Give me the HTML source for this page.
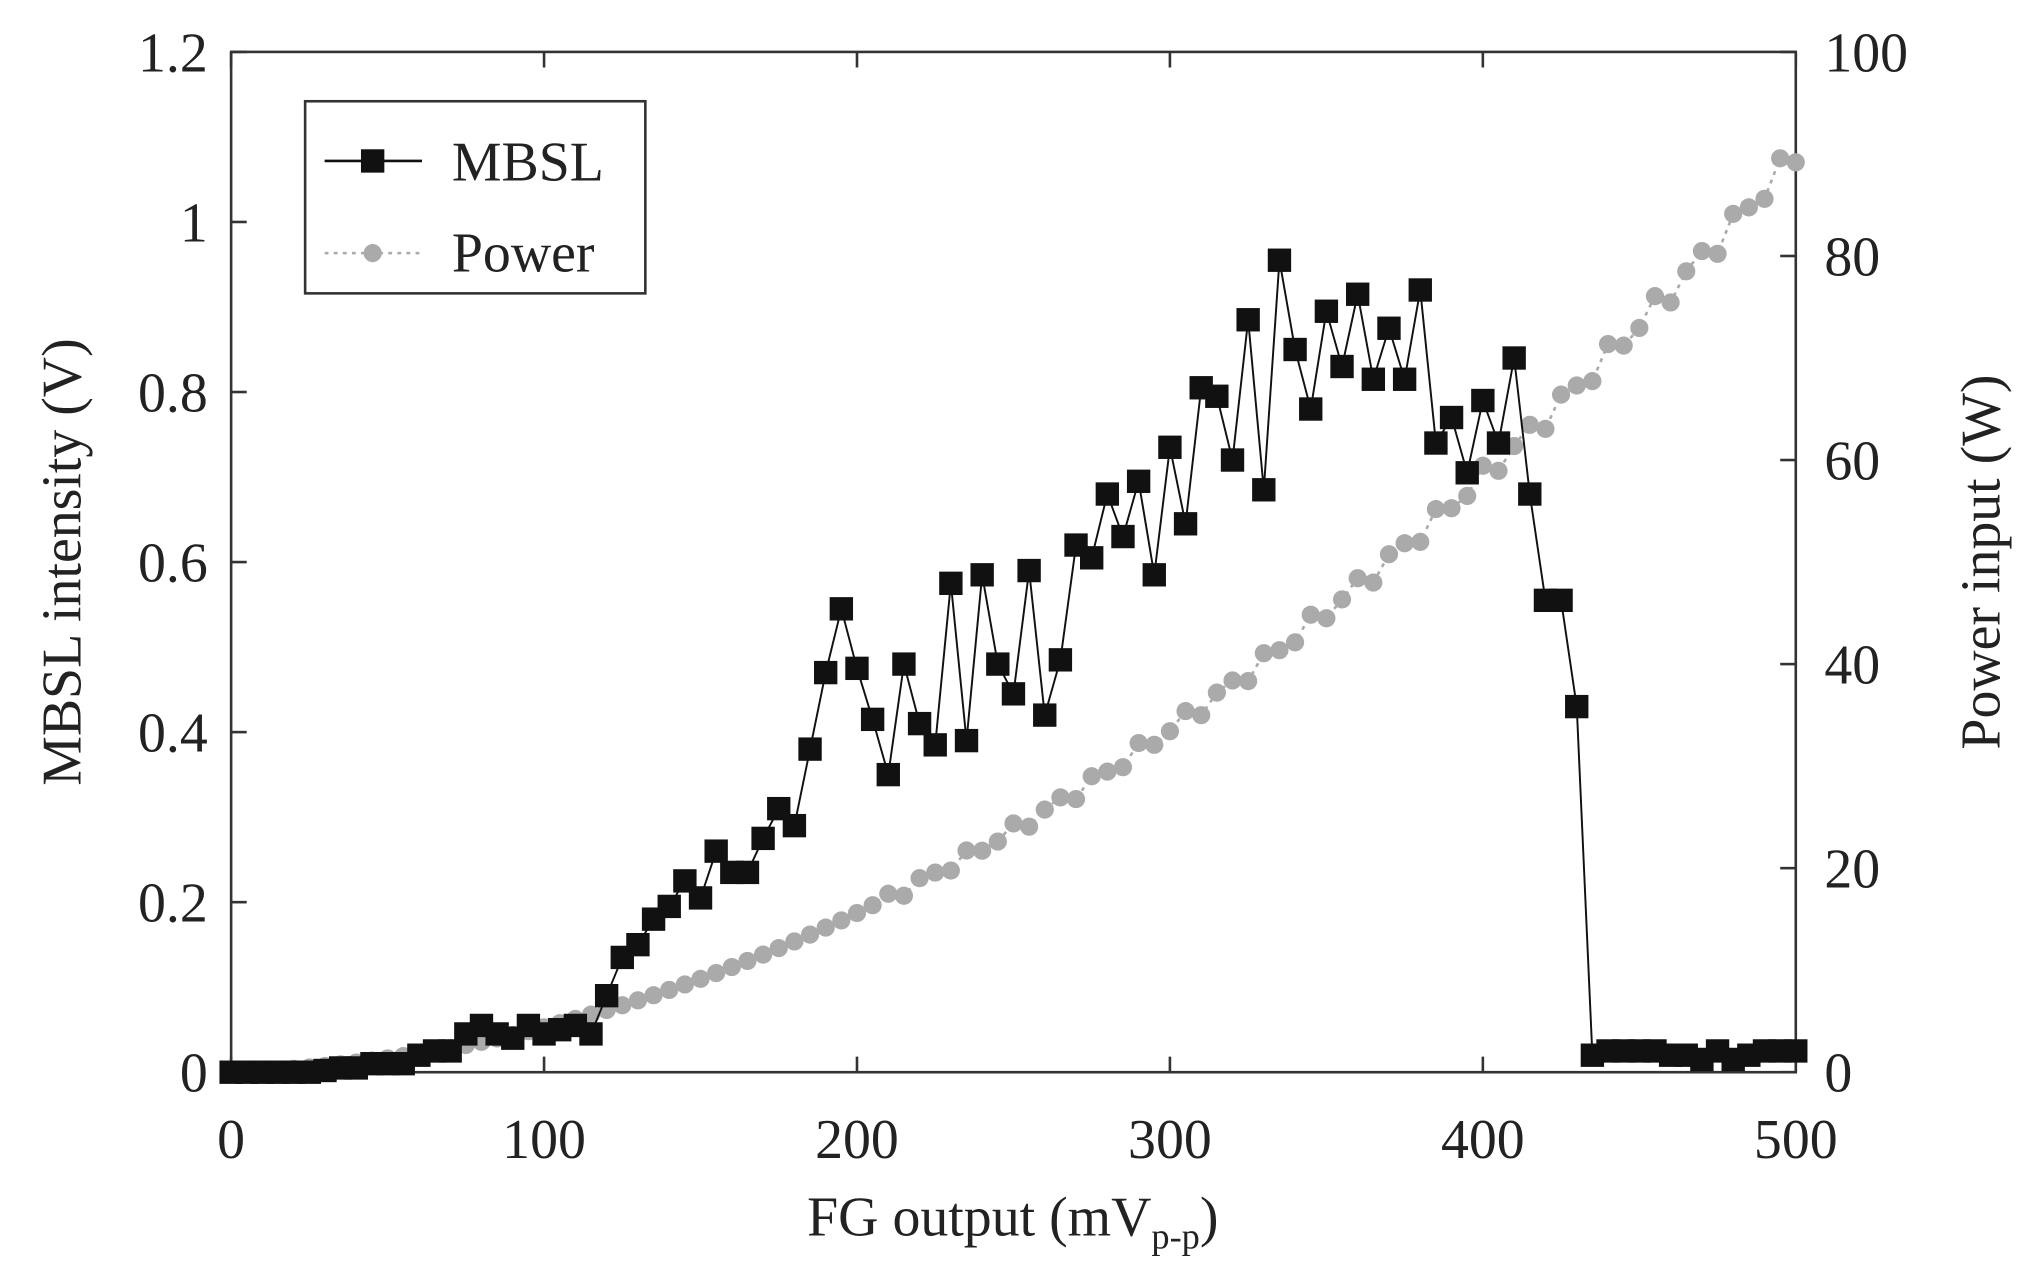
<!DOCTYPE html>
<html><head><meta charset="utf-8"><style>
html,body{margin:0;padding:0;background:#fff;}
svg{display:block;}
text{font-family:"Liberation Serif",serif;fill:#222;}
</style></head><body>
<svg id="s" width="2036" height="1276" viewBox="0 0 1568 983" preserveAspectRatio="none" xmlns="http://www.w3.org/2000/svg">
<rect x="178" y="40" width="1205" height="786" fill="none" stroke="#333" stroke-width="2"/>
<g id="ticks"></g>
<g id="power"></g>
<g id="mbsl"></g>
<rect x="235" y="78" width="262" height="148" fill="#fff" stroke="#333" stroke-width="2"/>
<line x1="250" y1="124" x2="325" y2="124" stroke="#111" stroke-width="2"/>
<rect x="278" y="115" width="18" height="18" fill="#111"/>
<text x="348" y="139" font-size="43">MBSL</text>
<line x1="250" y1="195" x2="325" y2="195" stroke="#aaa" stroke-width="2" stroke-dasharray="3,4"/>
<circle cx="287" cy="195" r="7" fill="#aaa"/>
<text x="348" y="209" font-size="43">Power</text>
<text x="780" y="952" font-size="43" text-anchor="middle">FG output (mV<tspan font-size="28" dy="10">p-p</tspan><tspan dy="-10">)</tspan></text>
<text transform="translate(62,433) rotate(-90)" font-size="43" text-anchor="middle">MBSL intensity (V)</text>
<text transform="translate(1540,433) rotate(-90)" font-size="43" text-anchor="middle">Power input (W)</text>
</svg>
<script>
var ns="http://www.w3.org/2000/svg";
function el(p,t,a){var e=document.createElementNS(ns,t);for(var k in a)e.setAttribute(k,a[k]);p.appendChild(e);return e;}
function X(v){return 178+v*2.41;}
function Y(v){return 826-v/1.2*786;}
function YP(v){return 826-v/100*786;}
var T=document.getElementById('ticks');
for(var i=0;i<=5;i++){var x=X(i*100);el(T,'line',{x1:x,y1:826,x2:x,y2:814,stroke:'#333','stroke-width':2});el(T,'line',{x1:x,y1:40,x2:x,y2:52,stroke:'#333','stroke-width':2});
var t=el(T,'text',{x:x,y:892,'font-size':43,'text-anchor':'middle'});t.textContent=i*100;}
var yl=['0','0.2','0.4','0.6','0.8','1','1.2'];
for(var i=0;i<=6;i++){var y=Y(i*0.2);el(T,'line',{x1:178,y1:y,x2:190,y2:y,stroke:'#333','stroke-width':2});
var t=el(T,'text',{x:160,y:y+15,'font-size':43,'text-anchor':'end'});t.textContent=yl[i];}
for(var i=0;i<=5;i++){var y=YP(i*20);el(T,'line',{x1:1383,y1:y,x2:1371,y2:y,stroke:'#333','stroke-width':2});
var t=el(T,'text',{x:1405,y:y+15,'font-size':43});t.textContent=i*20;}
var m=[0,0,0,0,0,0,0.002,0.005,0.005,0.01,0.01,0.01,0.02,0.025,0.025,0.045,0.055,0.045,0.04,0.055,0.045,0.05,0.055,0.045,0.09,0.135,0.15,0.18,0.195,0.225,0.205,0.26,0.235,0.235,0.275,0.31,0.29,0.38,0.47,0.545,0.475,0.415,0.35,0.48,0.41,0.385,0.575,0.39,0.585,0.48,0.445,0.59,0.42,0.485,0.62,0.605,0.68,0.63,0.695,0.585,0.735,0.645,0.805,0.795,0.72,0.885,0.685,0.955,0.85,0.78,0.895,0.83,0.915,0.815,0.875,0.815,0.92,0.74,0.77,0.705,0.79,0.74,0.84,0.68,0.555,0.555,0.43,0.02,0.025,0.025,0.025,0.025,0.02,0.02,0.015,0.025,0.015,0.02,0.025,0.025,0.025];
var P=document.getElementById('power'),M=document.getElementById('mbsl');
var pp=[],mp=[];
for(var i=0;i<=100;i++){var x=i*5;var p=0.01*x+0.00034*x*x+(x>200?0.8*Math.sin(i*2.3)*(x/300):0);pp.push(X(x)+','+YP(p));}
el(P,'polyline',{points:pp.join(' '),fill:'none',stroke:'#aaa','stroke-width':2,'stroke-dasharray':'3,4'});
pp.forEach(function(s){var a=s.split(',');el(P,'circle',{cx:a[0],cy:a[1],r:7,fill:'#aaa'});});
for(var i=0;i<=100;i++)mp.push(X(i*5)+','+Y(m[i]));
el(M,'polyline',{points:mp.join(' '),fill:'none',stroke:'#111','stroke-width':1.5});
mp.forEach(function(s){var a=s.split(',');el(M,'rect',{x:a[0]-9,y:a[1]-9,width:18,height:18,fill:'#111'});});
</script>
</body></html>
